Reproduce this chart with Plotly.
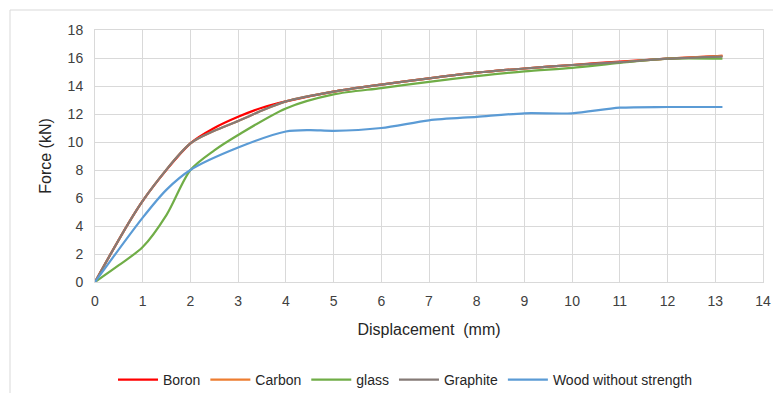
import plotly.graph_objects as go

x_boron = [0, 1, 2, 2.5, 3, 3.5, 4, 5, 6, 7, 8, 9, 10, 11, 12, 13.15]
y_boron = [0, 5.8, 9.9, 11.0, 11.8, 12.45, 12.9, 13.6, 14.1, 14.55, 14.95, 15.25, 15.5, 15.75, 15.95, 16.15]

x_carbon = [0, 1, 2, 2.5, 3, 3.5, 4, 5, 6, 7, 8, 9, 10, 11, 12, 13.15]
y_carbon = [0, 5.8, 9.9, 10.8, 11.5, 12.25, 12.9, 13.6, 14.1, 14.55, 14.95, 15.25, 15.5, 15.7, 15.95, 16.15]

x_glass = [0, 0.5, 1, 1.5, 2, 2.5, 3, 4, 5, 6, 7, 8, 9, 10, 11, 12, 13.15]
y_glass = [0, 1.2, 2.5, 4.8, 8.0, 9.4, 10.5, 12.4, 13.4, 13.85, 14.3, 14.7, 15.05, 15.3, 15.65, 15.95, 15.95]

x_graphite = [0, 1, 2, 2.5, 3, 3.5, 4, 5, 6, 7, 8, 9, 10, 11, 12, 13.15]
y_graphite = [0, 5.8, 9.9, 10.8, 11.5, 12.25, 12.9, 13.6, 14.1, 14.55, 14.95, 15.25, 15.5, 15.7, 15.95, 16.1]

x_wood = [0, 1, 1.5, 2, 3, 4, 4.5, 5, 6, 7, 8, 9, 10, 11, 12, 13.15]
y_wood = [0, 4.6, 6.6, 8.0, 9.6, 10.75, 10.85, 10.8, 11.0, 11.55, 11.8, 12.05, 12.05, 12.45, 12.5, 12.5]

series = [
    ("Boron", x_boron, y_boron, "#FF0000"),
    ("Carbon", x_carbon, y_carbon, "#ED7D31"),
    ("glass", x_glass, y_glass, "#70AD47"),
    ("Graphite", x_graphite, y_graphite, "#857A76"),
    ("Wood without strength", x_wood, y_wood, "#5B9BD5"),
]

FONT = "Liberation Sans Narrow, Arial Narrow, Liberation Sans, sans-serif"

fig = go.Figure()
for name, xs, ys, c in series:
    fig.add_trace(go.Scatter(x=xs, y=ys, name=name, mode="lines",
                             line=dict(color=c, width=2.2, shape="spline", smoothing=0.8)))

OFF = 8  # page body margin
W, H = 781 - 2 * OFF, 401 - 2 * OFF
L, T = 95 - OFF, 30 - OFF
R = W - (763 - OFF)
B = H - (282 - OFF)
pw, ph = W - L - R, H - T - B

def px(xp):
    return (xp - OFF - L) / pw

def py(yp):
    return (H - B - (yp - OFF)) / ph

fig.update_layout(
    width=W, height=H,
    margin=dict(l=L, r=R, t=T, b=B, autoexpand=False),
    paper_bgcolor="white", plot_bgcolor="white",
    font=dict(family=FONT, size=14, color="#404040"),
    showlegend=True,
    legend=dict(orientation="h", x=px(405), xanchor="center", y=py(380), yanchor="middle",
                font=dict(size=14, color="#262626"), itemwidth=40, tracegroupgap=0),
    xaxis=dict(range=[0, 14], dtick=1, showgrid=True, gridcolor="#D9D9D9", gridwidth=1,
               zeroline=False, showline=True, linecolor="#D9D9D9", mirror=True,
               ticks="", tickfont=dict(size=14, color="#404040"), ticklabelstandoff=6,
               title=dict(text="Displacement  (mm)", font=dict(size=16, color="#262626"), standoff=16)),
    yaxis=dict(range=[0, 18], dtick=2, showgrid=True, gridcolor="#D9D9D9", gridwidth=1,
               zeroline=False, showline=True, linecolor="#D9D9D9", mirror=True,
               ticks="", tickfont=dict(size=14, color="#404040"), ticklabelstandoff=8,
               title=dict(text="Force (kN)", font=dict(size=16, color="#262626"), standoff=12)),
    shapes=[dict(type="rect", xref="paper", yref="paper",
                 x0=px(10), x1=px(780), y0=py(399), y1=py(10),
                 line=dict(color="#D9D9D9", width=1), layer="below")],
)

fig.write_html("out.html")
